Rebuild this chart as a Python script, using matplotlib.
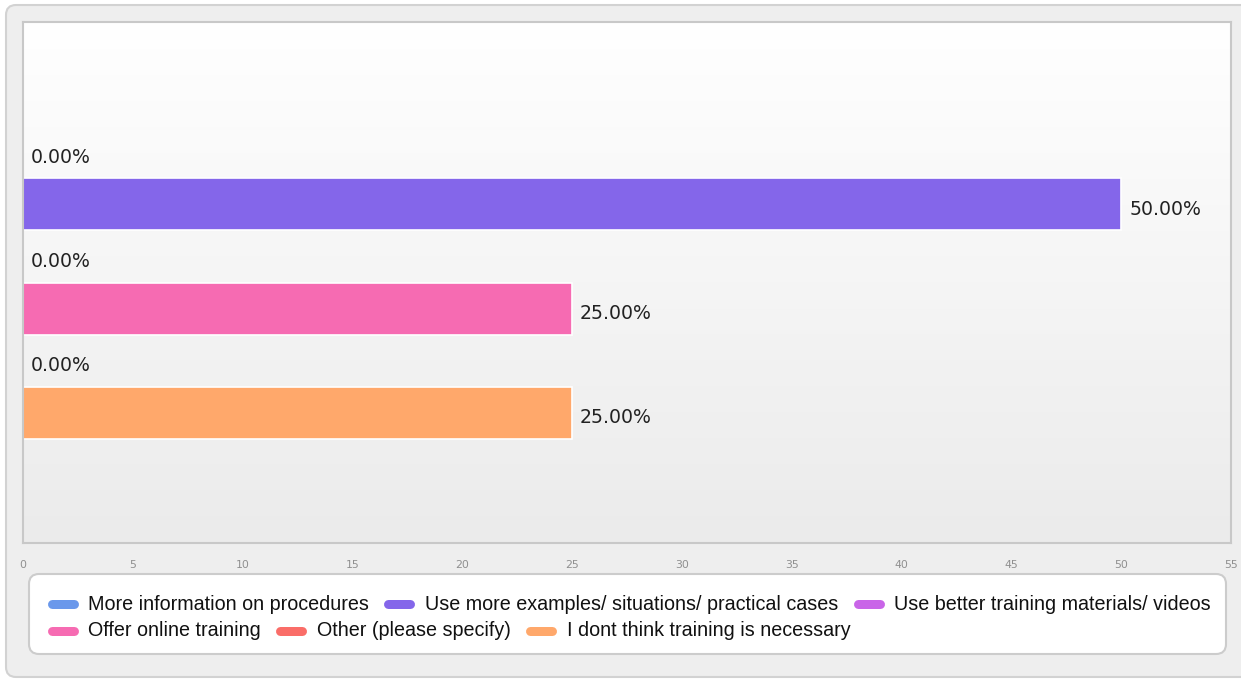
import matplotlib
matplotlib.use('Agg')
import matplotlib.pyplot as plt
from matplotlib.patches import FancyBboxPatch
from matplotlib.lines import Line2D
from matplotlib.transforms import IdentityTransform
from matplotlib.colors import LinearSegmentedColormap
from matplotlib import font_manager
import numpy as np

categories = [
    "More information on procedures",
    "Use more examples/ situations/ practical cases",
    "Use better training materials/ videos",
    "Offer online training",
    "Other (please specify)",
    "I dont think training is necessary",
]
values = [0, 50, 0, 25, 0, 25]
value_labels = ["0.00%", "50.00%", "0.00%", "25.00%", "0.00%", "25.00%"]
colors = ["#6a98eb", "#8466ea", "#c965e8", "#f66bb2", "#fa6d68", "#ffa86b"]
xticks = [0, 5, 10, 15, 20, 25, 30, 35, 40, 45, 50, 55]

W, H = 1241, 679
fig = plt.figure(figsize=(W / 100, H / 100), dpi=100, facecolor='white')
ident = IdentityTransform()

# outer panel
panel = FancyBboxPatch((6, H - 677), 1300, 672,
                       boxstyle="round,pad=0,rounding_size=10",
                       transform=ident, facecolor='#eeeeee',
                       edgecolor='#d2d2d2', linewidth=1.5, zorder=0)
fig.add_artist(panel)

# plot area
ax = fig.add_axes([23 / W, 1 - 543 / H, (1231 - 23) / W, (543 - 22) / H])
grad = np.linspace(0, 1, 256).reshape(-1, 1)
cmap = LinearSegmentedColormap.from_list('g', ['#ffffff', '#ebebeb'])
ax.imshow(grad, cmap=cmap, extent=[0, 1, 0, 1], transform=ax.transAxes,
          aspect='auto', zorder=0, origin='upper')

lws = [0 if v == 0 else 1.2 for v in values]
ax.barh(np.arange(len(categories)), values, height=1.0, color=colors,
        edgecolor='white', linewidth=lws, zorder=2)

for i, (v, lab) in enumerate(zip(values, value_labels)):
    ax.annotate(lab, xy=(v, i), xytext=(8, -5), textcoords='offset pixels',
                va='center', ha='left', fontsize=13.6, color='#222222',
                family='DejaVu Sans', zorder=3)

ax.set_xlim(0, 55)
ax.set_ylim(len(categories) - 0.5 + 2, -0.5 - 2)
ax.set_xticks(xticks)
ax.set_yticks([])
ax.tick_params(axis='x', length=0, pad=12, labelsize=7.8, labelcolor='#8f8f8f')
for s in ax.spines.values():
    s.set_color('#c8c8c8')
    s.set_linewidth(1.5)

# legend box
lbox = FancyBboxPatch((29, H - 654), 1226 - 29, 80,
                      boxstyle="round,pad=0,rounding_size=10",
                      transform=ident, facecolor='white',
                      edgecolor='#cccccc', linewidth=1.5, zorder=1)
fig.add_artist(lbox)

names = {f.name for f in font_manager.fontManager.ttflist}
if 'Liberation Sans Narrow' in names:
    leg_family, leg_size = 'Liberation Sans Narrow', 17.3
else:
    leg_family, leg_size = 'Liberation Sans', 14.25

renderer = fig.canvas.get_renderer()
rows = [[0, 1, 2], [3, 4, 5]]
row_y = [604, 631]
for row, y in zip(rows, row_y):
    x = 47
    for idx in row:
        ln = Line2D([x + 4.5, x + 31 - 4.5], [H - y, H - y], transform=ident,
                    linewidth=9 * 0.72, color=colors[idx],
                    solid_capstyle='round', zorder=2)
        fig.add_artist(ln)
        t = fig.text(x + 41, H - y, categories[idx], transform=ident,
                     va='center', ha='left', fontsize=leg_size,
                     family=leg_family, color='#111111', zorder=2)
        bb = t.get_window_extent(renderer)
        x = bb.x1 + 15

fig.savefig('out.png', dpi=100, facecolor='white')
